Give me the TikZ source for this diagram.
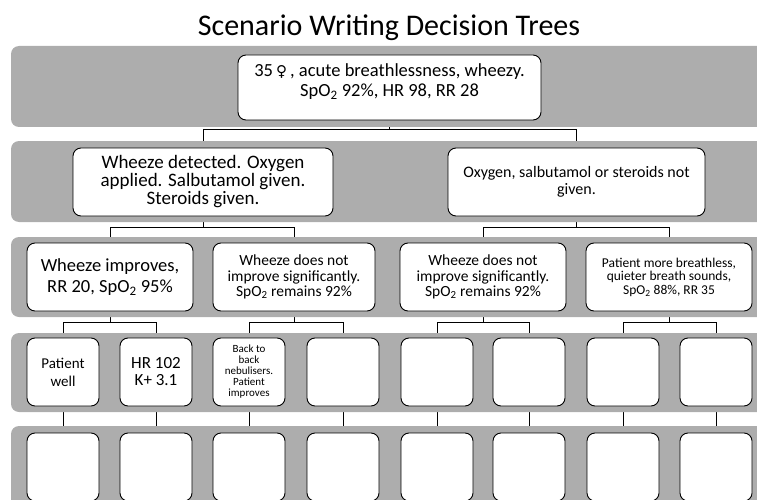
\documentclass[tikz,border=0pt]{standalone}
\usepackage{fontspec}
\setmainfont{Carlito}
\newfontfamily\symfont{DejaVu Sans}
\definecolor{bandgray}{RGB}{173,173,173}
\pgfdeclarelayer{lines}
\pgfdeclarelayer{bands}
\pgfsetlayers{lines,bands,main}
\newcommand{\fs}[2]{\fontsize{#1}{#2}\selectfont}
\newcommand{\spo}{SpO\textsubscript{2}}

\begin{document}
\begin{tikzpicture}[x=1pt,y=-1pt]
		\useasboundingbox (0,0) rectangle (757,500);
		\clip (0,0) rectangle (757,500);

		\node[inner sep=0pt, font=\fs{30}{30}] (T) at (389,28) {Scenario Writing Decision Trees};

		% grey rows
		\begin{pgfonlayer}{bands}
			\begin{scope}[every path/.style={fill=bandgray, rounded corners=8pt}]
				\fill (11,46) rectangle (790,127);
				\fill (11,141) rectangle (790,222);
				\fill (11,237) rectangle (790,317);
				\fill (11,333) rectangle (790,412);
				\fill (11,426) rectangle (790,540);
			\end{scope}
		\end{pgfonlayer}

		\begin{scope}[every node/.style={draw, fill=white, rounded corners=8pt, line width=0.9pt, align=center, inner sep=0pt}]
			\node[minimum width=303, minimum height=65, text depth=14pt, font=\fs{18.5}{20}] (A) at (389.5,87.5) {35\,{\symfont\fontsize{15}{19}\selectfont ♀}\,, acute breathlessness, wheezy.\\ \spo{} 92\%, HR 98, RR 28};

			\node[minimum width=260, minimum height=68, font=\fs{19}{18}] (B) at (203,182) {Wheeze detected. Oxygen\\ applied. Salbutamol given.\\ Steroids given.};
			\node[minimum width=257, minimum height=68, font=\fs{16}{16.5}] (C) at (576.5,182) {Oxygen, salbutamol or steroids not\\ given.};

			\node[minimum width=166, minimum height=68, font=\fs{18.5}{21}] (D) at (110,277) {Wheeze improves,\\ RR 20, \spo{} 95\%};
			\node[minimum width=162, minimum height=68, font=\fs{15.5}{15.5}] (E) at (294,277) {Wheeze does not\\ improve significantly.\\ \spo{} remains 92\%};
			\node[minimum width=166, minimum height=68, font=\fs{15.5}{15.5}] (F) at (483,277) {Wheeze does not\\ improve significantly.\\ \spo{} remains 92\%};
			\node[minimum width=166, minimum height=68, font=\fs{13.5}{13.5}] (G) at (669,277) {Patient more breathless,\\ quieter breath sounds,\\ \spo{} 88\%, RR 35};

			\node[minimum width=72, minimum height=68, font=\fs{15}{18}] (H) at (63,372) {Patient\\ well};
			\node[minimum width=72, minimum height=68, font=\fs{17}{17}] (I) at (156,372) {HR 102\\ K+ 3.1};
			\node[minimum width=72, minimum height=68, font=\fs{11}{11}] (J) at (249,372) {Back to\\ back\\ nebulisers.\\ Patient\\ improves};
			\node[minimum width=72, minimum height=68] (K) at (343,372) {};
			\node[minimum width=72, minimum height=68] (L) at (437,372) {};
			\node[minimum width=72, minimum height=68] (M) at (529,372) {};
			\node[minimum width=72, minimum height=68] (N) at (623,372) {};
			\node[minimum width=72, minimum height=68] (O) at (716,372) {};

			\node[minimum width=72, minimum height=68] (P) at (63,467) {};
			\node[minimum width=72, minimum height=68] (Q) at (156,467) {};
			\node[minimum width=72, minimum height=68] (R) at (249,467) {};
			\node[minimum width=72, minimum height=68] (S) at (343,467) {};
			\node[minimum width=72, minimum height=68] (U) at (437,467) {};
			\node[minimum width=72, minimum height=68] (V) at (529,467) {};
			\node[minimum width=72, minimum height=68] (W) at (623,467) {};
			\node[minimum width=72, minimum height=68] (X) at (716,467) {};
		\end{scope}

		% connectors sit under the grey rows
		\begin{pgfonlayer}{lines}
			\begin{scope}[every path/.style={draw=black, line width=0.8pt}]
				\path (A.south) -- ++(0,9) -| (B.north);
				\path (A.south) -- ++(0,9) -| (C.north);
				\path (B.south) -- ++(0,11) -| (D.north);
				\path (B.south) -- ++(0,11) -| (E.north);
				\path (C.south) -- ++(0,11) -| (F.north);
				\path (C.south) -- ++(0,11) -| (G.north);
				\path (D.south) -- ++(0,11) -| (H.north);
				\path (D.south) -- ++(0,11) -| (I.north);
				\path (E.south) -- ++(0,11) -| (J.north);
				\path (E.south) -- ++(0,11) -| (K.north);
				\path (F.south) -- ++(0,11) -| (L.north);
				\path (F.south) -- ++(0,11) -| (M.north);
				\path (G.south) -- ++(0,11) -| (N.north);
				\path (G.south) -- ++(0,11) -| (O.north);
				\path (H.south) -- (P.north);
				\path (I.south) -- (Q.north);
				\path (J.south) -- (R.north);
				\path (K.south) -- (S.north);
				\path (L.south) -- (U.north);
				\path (M.south) -- (V.north);
				\path (N.south) -- (W.north);
				\path (O.south) -- (X.north);
			\end{scope}
		\end{pgfonlayer}

	\end{tikzpicture}
\end{document}
